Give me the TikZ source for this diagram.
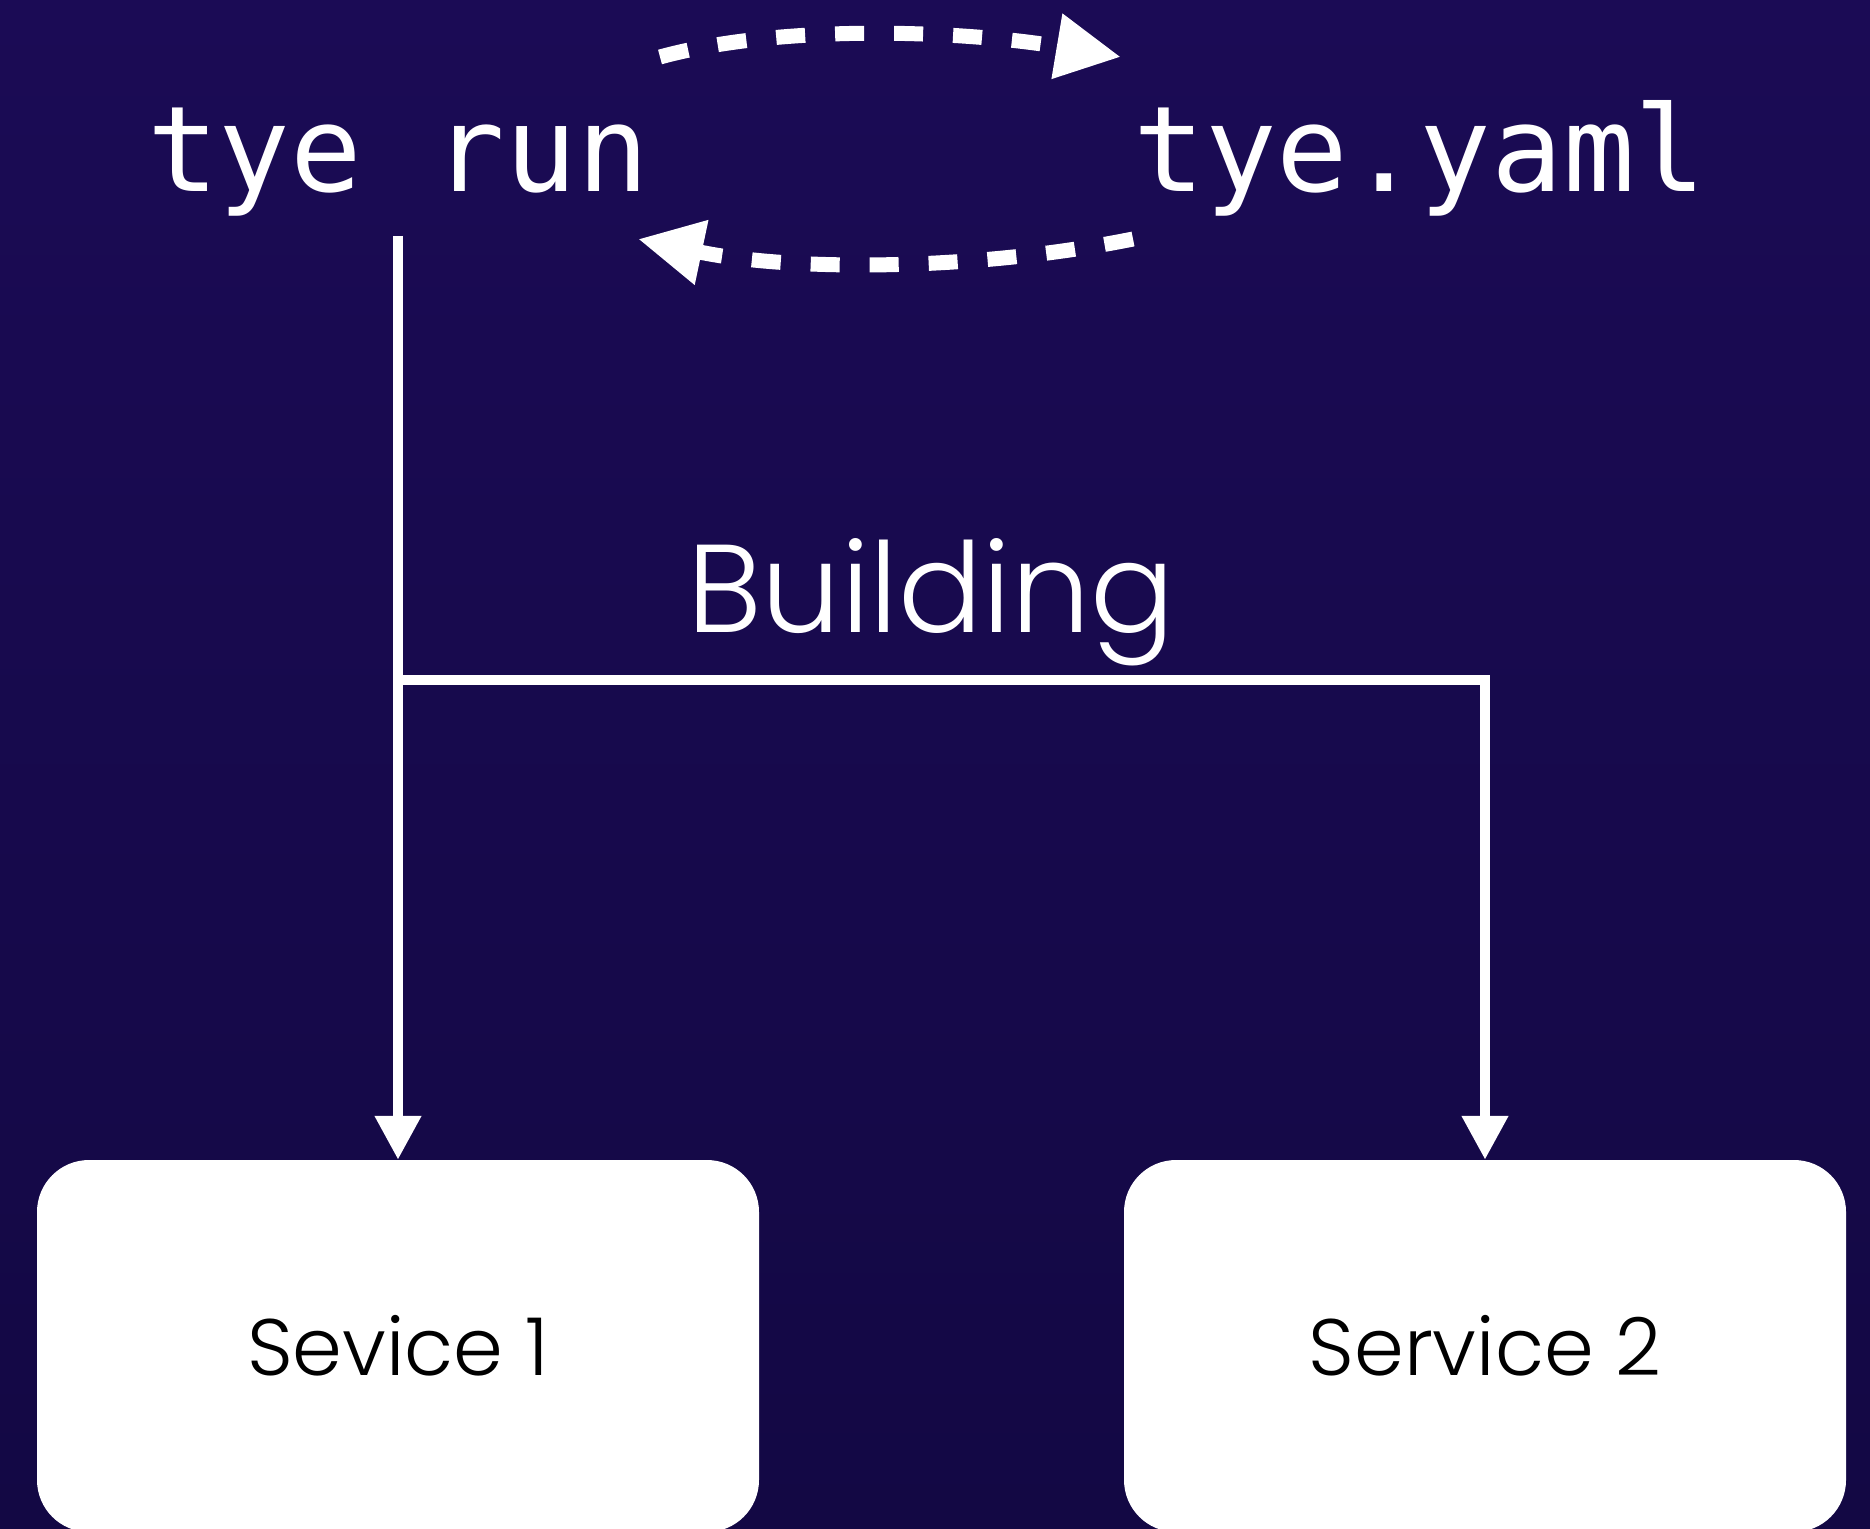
\documentclass[tikz,border=0pt]{standalone}
\usepackage{fontspec}
\usepackage{xcolor}
\usetikzlibrary{arrows.meta}
\newfontfamily\codefont{DejaVu Sans Mono}
\newfontfamily\labelfont{Poppins Light}
\definecolor{bgtop}{RGB}{27,11,85}
\definecolor{bgbot}{RGB}{19,8,68}

\begin{document}
\begin{tikzpicture}[x=1pt, y=-1pt, line join=round,
  code/.style={text=white, font=\codefont\fontsize{119}{119}\selectfont, inner sep=0pt, anchor=base},
  service/.style={fill=white, rounded corners=52pt, minimum width=722pt, minimum height=372pt,
    text=black, font=\labelfont\fontsize{80}{80}\selectfont},
  flow/.style={draw=white, line width=10.5pt, line join=miter, -{Triangle[length=44pt, width=44pt]}},
  watch/.style={draw=white, line width=15pt, dash pattern=on 29pt off 30pt,
    -{Triangle[length=65pt, width=62pt]}}]

  % Background
  \useasboundingbox (0,0) rectangle (1870,1528);
  \clip (0,0) rectangle (1870,1528);
  \shade[top color=bgtop, bottom color=bgbot] (0,0) rectangle (1870,1528);

  % Command and config file
  \node[code] (run) at (398,191) {tye run};
  \node[code] (yaml) at (1420,191) {tye.yaml};

  % Services
  \node[service] (s1) at (398,1346) {Sevice 1};
  \node[service] (s2) at (1485,1346) {Service 2};

  % Label
  \node[text=white, font=\labelfont\fontsize{125}{125}\selectfont, anchor=base] (build) at (931,632) {Building};

  % Watch loop between tye run and tye.yaml
  \coordinate (w1) at (660,57);
  \coordinate (w2) at (1121,57);
  \coordinate (w3) at (1133,239);
  \coordinate (w4) at (638,239);
  \draw[watch] (w1) .. controls (780,24) and (960,30) .. (w2);
  \draw[watch] (w3) .. controls (980,270) and (794,272) .. (w4);

  % Build arrows
  \coordinate (split) at (398,680);
  \draw[flow] ([yshift=-20pt]run.south) -- (s1.north);
  \draw[flow] (split) -| (s2.north);

\end{tikzpicture}
\end{document}
